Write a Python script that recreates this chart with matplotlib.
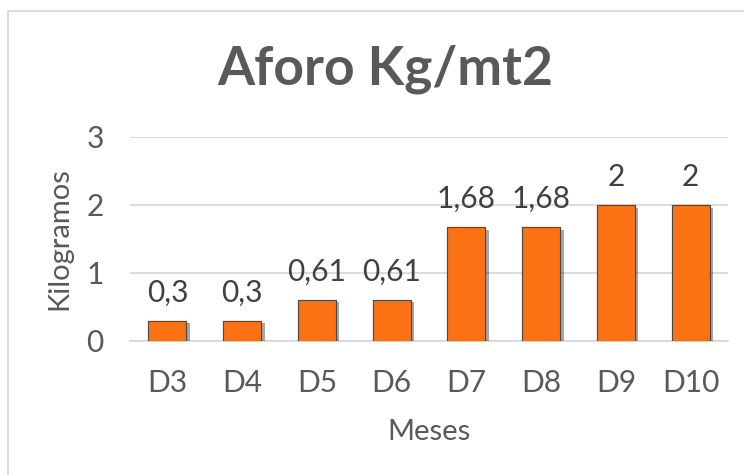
import matplotlib
matplotlib.use("Agg")
import matplotlib.pyplot as plt
import matplotlib.patheffects as pe
from matplotlib.patches import Rectangle

categories = ["D3", "D4", "D5", "D6", "D7", "D8", "D9", "D10"]
values = [0.3, 0.3, 0.61, 0.61, 1.68, 1.68, 2, 2]
value_labels = ["0,3", "0,3", "0,61", "0,61", "1,68", "1,68", "2", "2"]
yticks = [0, 1, 2, 3]

plt.rcParams['font.family'] = ['Lato', 'DejaVu Sans']
text_color = "#595959"

fig = plt.figure(figsize=(7.44, 4.75), dpi=100)
fig.patch.set_facecolor("white")

# chart border
fig.patches.append(Rectangle((7.5 / 744, -0.01), 1.2, 1 - 10.5 / 475 + 0.01,
                             transform=fig.transFigure, fill=False,
                             edgecolor="#D9D9D9", linewidth=1.3))

ax = fig.add_axes([130 / 744, 1 - 341 / 475, 598 / 744, 204 / 475])
x = list(range(len(categories)))
bars = ax.bar(x, values, width=0.51, color="#FA7214", edgecolor="#4a4a4a",
              linewidth=0.8, zorder=3)
for b in bars:
    b.set_path_effects([pe.withSimplePatchShadow(offset=(2.5, -2), shadow_rgbFace="black", alpha=0.35),
                        pe.Normal()])

ax.set_xlim(-0.5, len(categories) - 0.5)
ax.set_ylim(0, 3)
ax.set_yticks(yticks)
ax.set_xticks(x)
ax.set_xticklabels(categories)
ax.yaxis.grid(True, color="#D9D9D9", linewidth=1.3, zorder=0)
ax.set_axisbelow(True)
for s in ["top", "right", "left"]:
    ax.spines[s].set_visible(False)
ax.spines["bottom"].set_color("#D9D9D9")
ax.spines["bottom"].set_linewidth(1.3)
ax.tick_params(axis="both", length=0, labelsize=21.5, colors=text_color)
ax.tick_params(axis="y", pad=19)
ax.tick_params(axis="x", pad=20)

for xi, v, lab in zip(x, values, value_labels):
    ax.annotate(lab, (xi, v), xytext=(0, 10), textcoords="offset points",
                ha="center", va="bottom", fontsize=21.5, color="#404040")

ax.set_ylabel("Kilogramos", fontsize=21, color=text_color, labelpad=10)
ax.set_xlabel("Meses", fontsize=21, color=text_color, labelpad=16)

fig.text(385 / 744, 1 - 69 / 475, "Aforo Kg/mt2", ha="center", va="center",
         fontsize=38.5, fontweight="bold", color="#595959")

fig.savefig("out.png", dpi=100, facecolor="white")
